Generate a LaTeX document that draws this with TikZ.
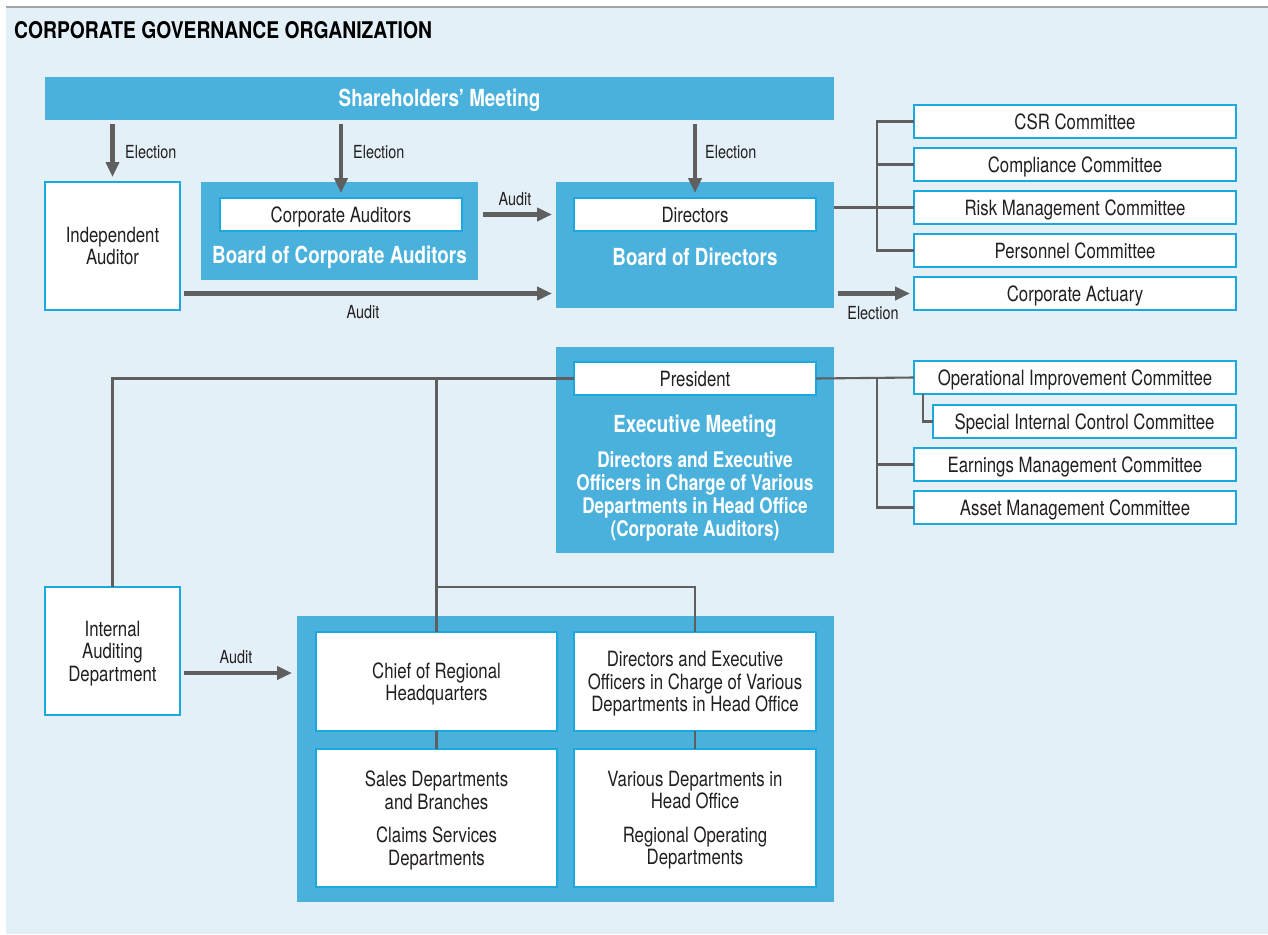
\documentclass[tikz,border=0pt]{standalone}
\usepackage{fontspec}
\setmainfont{TeX Gyre Heros}[FakeStretch=0.8]
\newfontfamily\titlefont{TeX Gyre Heros}[FakeStretch=0.84]
\usetikzlibrary{arrows.meta,calc}
\definecolor{pagebg}{HTML}{E3F0F8}
\definecolor{panel}{HTML}{4AB1DC}
\definecolor{rim}{HTML}{1BA8DE}
\definecolor{wire}{HTML}{5F5F60}
\definecolor{ink}{HTML}{231F20}
\definecolor{rule}{HTML}{A3A4A6}
\tikzset{
  whitebox/.style={draw=rim, line width=1.3pt, fill=white, inner sep=0pt, outer sep=0pt,
    align=center, text=ink, text depth=0pt, font=\fontsize{21}{22.5}\selectfont},
  panelbox/.style={fill=panel, inner sep=0pt, outer sep=0pt},
  headtext/.style={text=white, font=\bfseries\fontsize{23.5}{25}\selectfont, align=center},
  subtext/.style={text=white, font=\bfseries\fontsize{21.5}{23}\selectfont, align=center},
  lbl/.style={text=ink, font=\fontsize{18}{19}\selectfont, inner sep=0pt},
  bigarrow/.style={draw=wire, line width=4.5pt, -{Triangle[length=15pt,width=13pt]}},
  wireline/.style={draw=wire, line width=2.1pt},
}
\begin{document}
\begin{tikzpicture}[x=1pt,y=-1pt]
\useasboundingbox (0,0) rectangle (1268,934);
% page background and top rule
\fill[pagebg] (6,8) rectangle (1268,934);
\draw[rule, line width=2.5pt] (6,7) -- (1268,7);
\node[anchor=west, inner sep=0pt, text=black, font=\titlefont\bfseries\fontsize{23}{25}\selectfont] (title) at (14,30) {CORPORATE GOVERNANCE ORGANIZATION};

% shareholders
\node[panelbox, minimum width=789pt, minimum height=43pt] (share) at (439.5,98.5) {};
\node[headtext] (sharet) at ([yshift=-1.5pt]share.center) {Shareholders’ Meeting};

% independent auditor
\node[whitebox, minimum width=135pt, minimum height=128pt] (indep) at (112.5,246) {Independent\\Auditor};

% board of corporate auditors
\node[panelbox, minimum width=277pt, minimum height=98pt] (bca) at (339.5,231) {};
\node[whitebox, minimum width=242pt, minimum height=33pt] (ca) at (341,214.5) {Corporate Auditors};
\node[headtext] (bcat) at (339.5,257) {Board of Corporate Auditors};

% board of directors
\node[panelbox, minimum width=278pt, minimum height=126pt] (bod) at (695,245) {};
\node[whitebox, minimum width=242pt, minimum height=33pt] (dir) at (695,214.5) {Directors};
\node[headtext] (bodt) at (695,257) {Board of Directors};

% committees under the board
\node[whitebox, minimum width=322pt, minimum height=33pt] (csr) at (1075,121.5) {CSR Committee};
\node[whitebox, minimum width=322pt, minimum height=33pt] (comp) at (1075,164.5) {Compliance Committee};
\node[whitebox, minimum width=322pt, minimum height=33pt] (risk) at (1075,207.5) {Risk Management Committee};
\node[whitebox, minimum width=322pt, minimum height=33pt] (pers) at (1075,250.5) {Personnel Committee};
\node[whitebox, minimum width=322pt, minimum height=33pt] (act) at (1075,293.5) {Corporate Actuary};

% executive meeting
\node[panelbox, minimum width=278pt, minimum height=206pt] (exec) at (695,450) {};
\node[whitebox, minimum width=242pt, minimum height=33pt] (pres) at (695,378.5) {President};
\node[headtext] (exect) at (695,426) {Executive Meeting};
\node[subtext] (execs) at (695,496.5) {Directors and Executive\\Officers in Charge of Various\\Departments in Head Office\\(Corporate Auditors)};

% committees under the president
\node[whitebox, minimum width=322pt, minimum height=33pt] (opi) at (1075,377.5) {Operational Improvement Committee};
\node[whitebox, minimum width=303pt, minimum height=33pt] (sic) at (1084.5,421.5) {Special Internal Control Committee};
\node[whitebox, minimum width=322pt, minimum height=33pt] (earn) at (1075,464.5) {Earnings Management Committee};
\node[whitebox, minimum width=322pt, minimum height=33pt] (asset) at (1075,507.5) {Asset Management Committee};

% internal auditing
\node[whitebox, minimum width=135pt, minimum height=128pt] (iad) at (112.5,651) {Internal\\Auditing\\Department};

% operating organisation
\node[panelbox, minimum width=537pt, minimum height=286pt] (group) at (565.5,759) {};
\node[whitebox, minimum width=241pt, minimum height=99pt] (chief) at (436.5,681.5) {Chief of Regional\\Headquarters};
\node[whitebox, minimum width=242pt, minimum height=99pt] (dehq) at (695,681.5) {Directors and Executive\\Officers in Charge of Various\\Departments in Head Office};
\node[whitebox, minimum width=241pt, minimum height=138pt] (sales) at (436.5,818) {Sales Departments\\and Branches\\[11pt]Claims Services\\Departments};
\node[whitebox, minimum width=242pt, minimum height=138pt] (various) at (695,818) {Various Departments in\\Head Office\\[11pt]Regional Operating\\Departments};

% election arrows
\draw[bigarrow, shorten <=4pt, shorten >=5pt] (share.south -| indep) -- (indep.north);
\draw[bigarrow, shorten <=4pt, shorten >=5pt] (share.south -| ca) -- (ca.north);
\draw[bigarrow, shorten <=4pt, shorten >=5pt] (share.south -| dir) -- (dir.north);
\node[lbl, anchor=west] (el1) at (125,152) {Election};
\node[lbl, anchor=west] (el2) at (353,152) {Election};
\node[lbl, anchor=west] (el3) at (705,152) {Election};

% audit arrows
\draw[bigarrow, shorten <=5pt, shorten >=4pt] (bca.east |- ca) -- (bod.west |- ca);
\node[lbl] (au1) at (515,199) {Audit};
\draw[bigarrow, shorten <=4pt, shorten >=4pt] (indep.east |- act) -- (bod.west |- act);
\node[lbl] (au2) at (363,312) {Audit};
\draw[bigarrow, shorten <=4pt, shorten >=4pt] (bod.east |- act) -- (act.west);
\node[lbl] (el4) at (873,313) {Election};
\coordinate (ib) at ([yshift=-22pt]iad.east);
\draw[bigarrow, shorten <=4pt, shorten >=5pt] (ib) -- (ib -| group.west);
\node[lbl] (au3) at (236,657) {Audit};

% board committees bracket
\coordinate (bj) at ([xshift=-37pt]csr.west);
\draw[wireline] (bod.east |- risk) -- (risk.west);
\draw[wireline] (csr.west) -- (bj) |- (pers.west);
\draw[wireline] (bj |- comp) -- (comp.west);

% president to the left and down
\draw[wireline] (pres.west) -| (iad.north);
\coordinate (br) at (chief.north |- iad.north);
\draw[wireline] (pres.west -| chief) -- (chief.north);
\draw[wireline] (br) -| (dehq.north);
\draw[wireline] (chief.south) -- (sales.north);
\draw[wireline] (dehq.south) -- (various.north);

% president committees bracket
\coordinate (pj) at ([xshift=-37pt]opi.west);
\draw[wireline] (pres.east) -- (opi.west);
\draw[wireline] (pj) |- (asset.west);
\draw[wireline] (pj |- earn) -- (earn.west);
\draw[wireline] ([xshift=9pt]opi.south west) |- (sic.west);
\end{tikzpicture}
\end{document}
